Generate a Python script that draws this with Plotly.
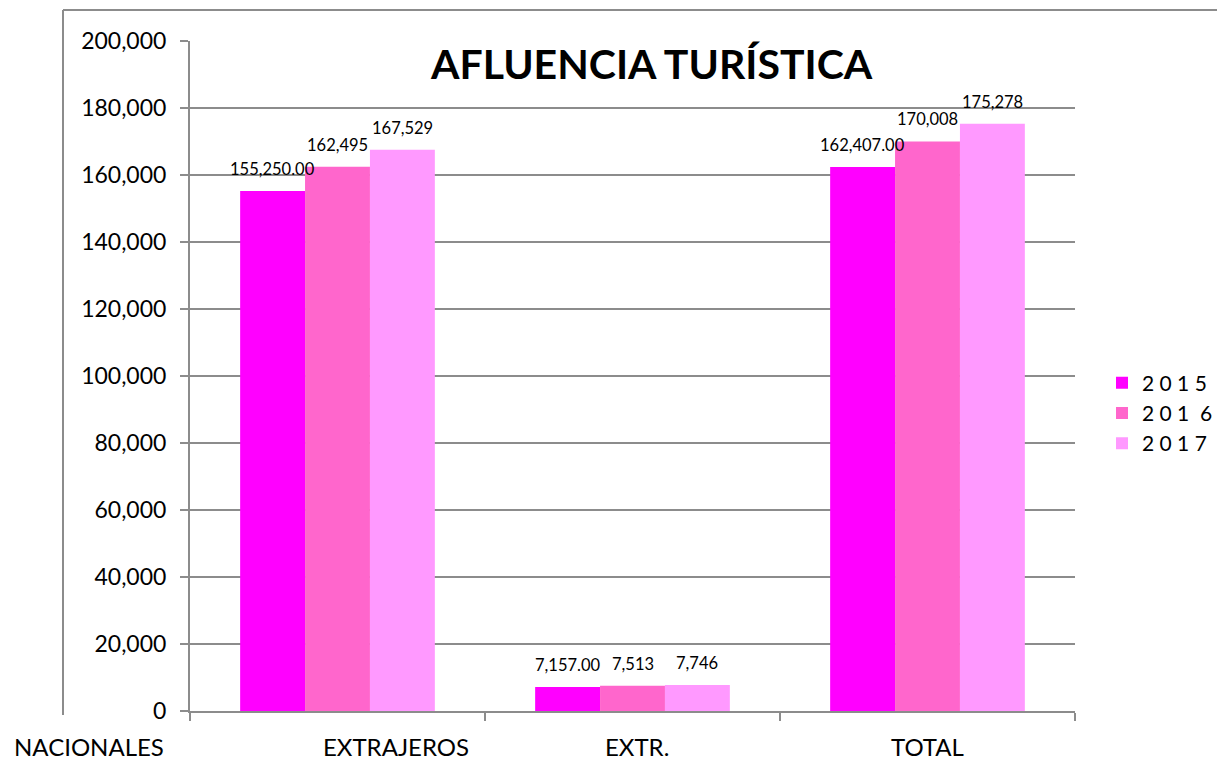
import plotly.graph_objects as go

categories = ["EXTRAJEROS", "EXTR.", "TOTAL"]
series_names = ["2 0 1 5", "2 0 1 \u00a06", "2 0 1 7"]
values_2015 = [155250, 7157, 162407]
values_2016 = [162495, 7513, 170008]
values_2017 = [167529, 7746, 175278]
label_fmt = ["{:,.2f}", "{:,.0f}", "{:,.0f}"]
colors = ["#FF00FF", "#FF66CC", "#FF99FF"]
y_ticks = list(range(0, 200001, 20000))

# page body has an 8px margin; target coordinates are screen coordinates
OFF = 8
SW, SH = 1225, 772
W, H = SW - 2 * OFF, SH - 2 * OFF
PL, PR, PT, PB = 190, 1075, 41, 711   # plot area in screen px
ML, MT = PL - OFF, PT - OFF
PW, PH = PR - PL, PB - PT
MR = W - ML - PW
MB = H - MT - PH
BARGAP = 0.34
FONT = "Lato"

def px_x(px):
    return (px - PL) / PW

def px_y(py):
    return (PB - py) / PH

fig = go.Figure()
all_vals = [values_2015, values_2016, values_2017]
for name, vals, col in zip(series_names, all_vals, colors):
    fig.add_trace(go.Bar(x=categories, y=vals, name=name,
                         marker=dict(color=col, line=dict(width=0))))

bar_px = PW / len(categories) * (1 - BARGAP) / 3
annotations = []
for i, (vals, fmt) in enumerate(zip(all_vals, label_fmt)):
    for c, v in zip(categories, vals):
        annotations.append(dict(x=c, y=v, xref="x", yref="y", text=fmt.format(v),
                                showarrow=False, xshift=(i - 1) * bar_px, yshift=22,
                                xanchor="center", yanchor="middle",
                                font=dict(family=FONT, size=16.5, color="#000")))

# category labels
cat_label_x = {"EXTRAJEROS": 58, "EXTR.": 4, "TOTAL": 0}
for c in categories:
    annotations.append(dict(x=c, y=px_y(746), xref="x", yref="paper", text=c,
                            showarrow=False, xshift=cat_label_x[c],
                            xanchor="center", yanchor="middle",
                            font=dict(family=FONT, size=24, color="#000")))
annotations.append(dict(x=px_x(89), y=px_y(746), xref="paper", yref="paper",
                        text="NACIONALES", showarrow=False,
                        xanchor="center", yanchor="middle",
                        font=dict(family=FONT, size=24, color="#000")))
annotations.append(dict(x=px_x(651), y=px_y(63), xref="paper", yref="paper",
                        text="<b>AFLUENCIA TURÍSTICA</b>", showarrow=False,
                        xanchor="center", yanchor="middle",
                        font=dict(family=FONT, size=41, color="#000")))

shapes = [
    dict(type="line", xref="paper", yref="paper", x0=px_x(63), x1=px_x(63),
         y0=px_y(10), y1=px_y(715), line=dict(color="#8c8c8c", width=2)),
    dict(type="line", xref="paper", yref="paper", x0=px_x(63), x1=px_x(SW),
         y0=px_y(10), y1=px_y(10), line=dict(color="#8c8c8c", width=2)),
    dict(type="line", xref="paper", yref="paper", x0=px_x(63), x1=px_x(63),
         y0=px_y(768), y1=px_y(772), line=dict(color="#8c8c8c", width=2)),
]

fig.update_layout(
    width=W, height=H,
    margin=dict(l=ML, r=MR, t=MT, b=MB, pad=0, autoexpand=False),
    paper_bgcolor="white", plot_bgcolor="white",
    barmode="group", bargap=BARGAP, bargroupgap=0,
    font=dict(family=FONT, color="#000"),
    showlegend=True,
    legend=dict(x=px_x(1102), y=px_y(413), xanchor="left", yanchor="middle",
                font=dict(family=FONT, size=21, color="#000"),
                bgcolor="rgba(0,0,0,0)", itemwidth=30),
    annotations=annotations,
    shapes=shapes,
)
fig.update_xaxes(showticklabels=False, tickson="boundaries", ticks="outside",
                 ticklen=8, tickcolor="#8c8c8c", tickwidth=2,
                 showline=True, linecolor="#8c8c8c", linewidth=2,
                 showgrid=False, fixedrange=True)
fig.update_yaxes(range=[0, 200000], tickvals=y_ticks, tickformat=",",
                 ticks="outside", ticklen=8, tickcolor="#8c8c8c", tickwidth=2,
                 showline=True, linecolor="#8c8c8c", linewidth=2,
                 showgrid=True, gridcolor="#8c8c8c", gridwidth=2,
                 tickfont=dict(family=FONT, size=23, color="#000"),
                 zeroline=False, ticklabelstandoff=9)

fig.write_html("out.html")
